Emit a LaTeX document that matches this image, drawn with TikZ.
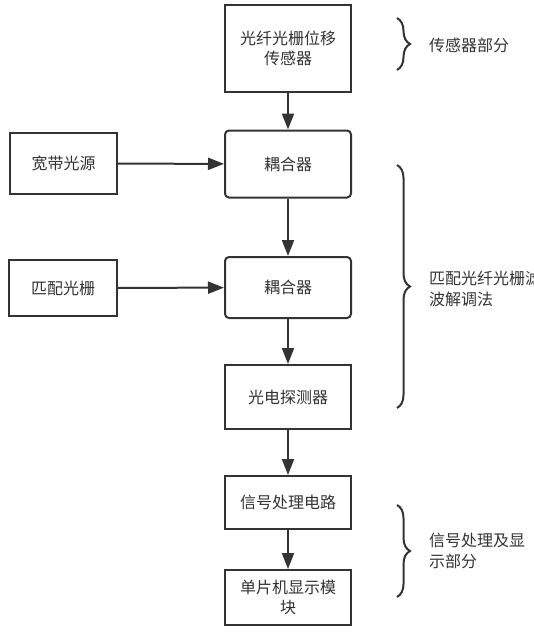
\documentclass[tikz,border=0pt]{standalone}
\usepackage{fontspec}
\setmainfont{Noto Sans CJK SC}
\usetikzlibrary{arrows.meta,decorations.pathreplacing}
\definecolor{ink}{HTML}{333333}
\tikzset{
  box/.style={draw=ink, line width=2pt, fill=white, text=ink, align=center,
    inner sep=0pt, font=\fontsize{16}{20}\selectfont},
  rbox/.style={box, rounded corners=4pt},
  conn/.style={draw=ink, line width=2pt, -{Triangle[length=16pt,width=12pt]}},
  bracestyle/.style={draw=ink, line width=2pt,
    decorate, decoration={brace, amplitude=13pt, aspect=0.5}},
  lbl/.style={text=ink, align=left, anchor=west, inner sep=0pt,
    font=\fontsize{16}{21}\selectfont}
}
\begin{document}
\begin{tikzpicture}[x=1pt,y=-1pt]
\useasboundingbox (0,0) rectangle (533,632);
\node[box, minimum width=126pt, minimum height=87pt] (b1) at (288,48.5) {光纤光栅位移\\传感器};
\node[rbox, minimum width=126pt, minimum height=67pt] (c1) at (288,164) {耦合器};
\node[box, minimum width=107pt, minimum height=61pt] (src) at (63.5,163.5) {宽带光源};
\node[rbox, minimum width=126pt, minimum height=61pt] (c2) at (288,287.5) {耦合器};
\node[box, minimum width=108pt, minimum height=56pt] (mg) at (63,288) {匹配光栅};
\node[box, minimum width=126pt, minimum height=64pt] (pd) at (288,397) {光电探测器};
\node[box, minimum width=126pt, minimum height=53pt] (sp) at (288,502.5) {信号处理电路};
\node[box, minimum width=126pt, minimum height=55pt] (mcu) at (288,597.5) {单片机显示模\\块};

\draw[conn] (b1) -- (c1);
\draw[conn] (src) -- (c1);
\draw[conn] (c1) -- (c2);
\draw[conn] (mg) -- (c2);
\draw[conn] (c2) -- (pd);
\draw[conn] (pd) -- (sp);
\draw[conn] (sp) -- (mcu);

\coordinate (br1a) at (397,18);
\coordinate (br1b) at (397,70);
\coordinate (br2a) at (397,165);
\coordinate (br2b) at (397,408);
\coordinate (br3a) at (397,505);
\coordinate (br3b) at (397,597);
\draw[bracestyle] (br1a) -- (br1b);
\draw[bracestyle] (br2a) -- (br2b);
\draw[bracestyle] (br3a) -- (br3b);

\node[lbl] (l1) at (429,45) {传感器部分};
\node[lbl] (l2) at (429,289) {匹配光纤光栅滤\\波解调法};
\node[lbl] (l3) at (429,551) {信号处理及显\\示部分};
\end{tikzpicture}
\end{document}
